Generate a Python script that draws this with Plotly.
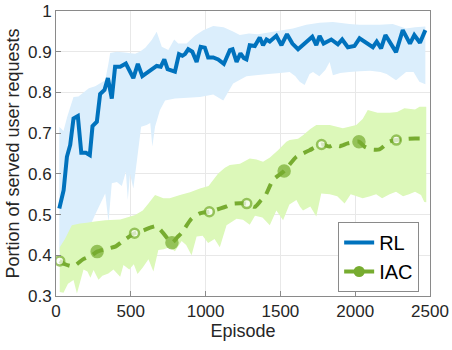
import plotly.graph_objects as go

# RL mean curve
rl_ep = [22, 51, 73, 95, 117, 146, 169, 200, 226, 244, 273, 295, 324, 347, 373, 395, 429, 467,
         517, 547, 577, 629, 673, 700, 724, 746, 795, 822, 845, 862, 884, 911, 940, 967, 995,
         1017, 1051, 1084, 1122, 1162, 1180, 1207, 1233, 1256, 1273, 1295, 1329, 1362, 1384,
         1407, 1429, 1473, 1507, 1544, 1580, 1618, 1667, 1713, 1740, 1762, 1789, 1840, 1884,
         1913, 1951, 1995, 2029, 2073, 2118, 2144, 2173, 2202, 2240, 2273, 2318, 2366, 2395,
         2433, 2469]
rl_val = [0.515, 0.56, 0.642, 0.671, 0.736, 0.742, 0.652, 0.652, 0.646, 0.717, 0.728, 0.796,
          0.806, 0.835, 0.785, 0.863, 0.863, 0.871, 0.835, 0.87, 0.84, 0.853, 0.865, 0.863,
          0.881, 0.857, 0.851, 0.894, 0.89, 0.894, 0.906, 0.9, 0.875, 0.912, 0.91, 0.886,
          0.886, 0.881, 0.87, 0.904, 0.906, 0.875, 0.896, 0.884, 0.881, 0.916, 0.914, 0.935,
          0.916, 0.93, 0.925, 0.939, 0.916, 0.943, 0.92, 0.906, 0.922, 0.937, 0.916, 0.939,
          0.92, 0.93, 0.918, 0.93, 0.911, 0.914, 0.933, 0.922, 0.911, 0.925, 0.908, 0.941,
          0.916, 0.899, 0.953, 0.92, 0.941, 0.922, 0.953]

# RL band
rl_hi_ep = [22, 50, 75, 117, 150, 184, 220, 262, 329, 350, 362, 407, 460, 529, 560, 597, 640,
            673, 707, 751, 790, 817, 873, 930, 984, 1051, 1120, 1180, 1229, 1290, 1351, 1451,
            1584, 1673, 1762, 1851, 1962, 2029, 2162, 2251, 2340, 2400, 2469]
rl_hi = [0.716, 0.705, 0.74, 0.789, 0.79, 0.80, 0.81, 0.815, 0.83, 0.87, 0.897, 0.9, 0.898,
         0.895, 0.9, 0.91, 0.929, 0.949, 0.912, 0.904, 0.93, 0.92, 0.92, 0.94, 0.953, 0.963,
         0.96, 0.95, 0.941, 0.945, 0.943, 0.949, 0.957, 0.966, 0.971, 0.973, 0.968, 0.966,
         0.966, 0.968, 0.957, 0.96, 0.962]
rl_lo_ep = [22, 75, 150, 200, 262, 329, 351, 373, 407, 440, 467, 480, 495, 517, 540, 569, 606,
            630, 644, 662, 695, 729, 795, 880, 962, 1051, 1118, 1184, 1273, 1351, 1420, 1500,
            1562, 1600, 1629, 1662, 1695, 1718, 1760, 1800, 1829, 1851, 1900, 1960, 2030, 2100,
            2169, 2210, 2273, 2340, 2390, 2429, 2469]
rl_lo = [0.41, 0.40, 0.42, 0.45, 0.50, 0.552, 0.482, 0.577, 0.58, 0.57, 0.605, 0.536, 0.60,
         0.564, 0.63, 0.716, 0.72, 0.725, 0.667, 0.716, 0.757, 0.78, 0.785, 0.787, 0.789,
         0.795, 0.78, 0.822, 0.84, 0.843, 0.845, 0.848, 0.85, 0.84, 0.826, 0.818, 0.845,
         0.85, 0.84, 0.855, 0.875, 0.842, 0.848, 0.85, 0.852, 0.853, 0.85, 0.845, 0.83,
         0.85, 0.85, 0.826, 0.82]

# IAC mean curve
iac_ep = [25, 60, 117, 180, 240, 275, 330, 400, 440, 525, 584, 630, 673, 700, 775, 813, 840,
          906, 962, 1025, 1100, 1140, 1184, 1275, 1329, 1370, 1396, 1451, 1525, 1607, 1650,
          1695, 1775, 1829, 1860, 1896, 1950, 2025, 2062, 2107, 2162, 2229, 2275, 2350, 2400,
          2475]
iac_val = [0.386, 0.378, 0.373, 0.39, 0.40, 0.409, 0.415, 0.422, 0.433, 0.454, 0.461, 0.468,
           0.472, 0.462, 0.431, 0.445, 0.455, 0.49, 0.503, 0.507, 0.515, 0.52, 0.527, 0.527,
           0.519, 0.535, 0.544, 0.585, 0.607, 0.642, 0.65, 0.658, 0.672, 0.667, 0.672, 0.668,
           0.675, 0.679, 0.667, 0.66, 0.66, 0.679, 0.683, 0.686, 0.687, 0.687]
iac_mark_ep = [25, 275, 525, 775, 1025, 1275, 1525, 1775, 2025, 2275]
iac_mark_filled = [False, True, False, True, False, False, True, False, True, False]

# IAC band
iac_hi_ep = [25, 60, 106, 160, 206, 260, 329, 430, 529, 580, 618, 662, 718, 760, 829, 896, 962,
             1020, 1084, 1129, 1162, 1230, 1295, 1340, 1384, 1430, 1484, 1540, 1562, 1618,
             1651, 1700, 1740, 1830, 1918, 2007, 2050, 2084, 2150, 2229, 2280, 2329, 2400,
             2430, 2475]
iac_hi = [0.42, 0.44, 0.474, 0.478, 0.48, 0.483, 0.486, 0.488, 0.499, 0.51, 0.527, 0.548,
          0.54, 0.54, 0.548, 0.555, 0.564, 0.57, 0.601, 0.615, 0.622, 0.625, 0.638, 0.635,
          0.63, 0.64, 0.658, 0.679, 0.683, 0.686, 0.695, 0.71, 0.72, 0.72, 0.712, 0.72,
          0.735, 0.757, 0.75, 0.75, 0.752, 0.761, 0.758, 0.765, 0.765]
iac_lo_ep = [25, 50, 80, 117, 140, 184, 210, 230, 251, 284, 310, 350, 384, 429, 451, 490, 520,
             545, 580, 618, 651, 684, 720, 760, 795, 840, 870, 906, 940, 980, 1017, 1060, 1095,
             1140, 1207, 1250, 1295, 1330, 1380, 1429, 1473, 1518, 1560, 1607, 1630, 1651,
             1700, 1740, 1773, 1830, 1880, 1929, 1970, 2010, 2050, 2100, 2140, 2180, 2230,
             2273, 2320, 2360, 2400, 2440, 2462, 2475]
iac_lo = [0.31, 0.308, 0.33, 0.339, 0.306, 0.365, 0.36, 0.345, 0.364, 0.34, 0.35, 0.355,
          0.365, 0.347, 0.376, 0.365, 0.378, 0.354, 0.37, 0.39, 0.36, 0.413, 0.415, 0.42,
          0.41, 0.435, 0.425, 0.40, 0.446, 0.448, 0.43, 0.44, 0.42, 0.474, 0.49, 0.487, 0.475,
          0.497, 0.493, 0.474, 0.51, 0.486, 0.525, 0.536, 0.52, 0.51, 0.52, 0.495, 0.552,
          0.55, 0.545, 0.527, 0.55, 0.545, 0.54, 0.545, 0.55, 0.54, 0.55, 0.556, 0.545, 0.55,
          0.556, 0.548, 0.531, 0.53]

BLUE = '#0072BD'
GREEN = '#77AC30'
BLUE_FILL = '#dbeefc'
GREEN_FILL = '#dcf8b9'
AXIS = '#8a8a8a'
TEXT = '#262626'
FONT = 'Liberation Sans, Arial, sans-serif'

fig = go.Figure()

# shaded bands (green drawn over blue)
fig.add_trace(go.Scatter(x=rl_hi_ep + rl_lo_ep[::-1], y=rl_hi + rl_lo[::-1],
                         fill='toself', fillcolor=BLUE_FILL, mode='none',
                         showlegend=False, hoverinfo='skip'))
fig.add_trace(go.Scatter(x=iac_hi_ep + iac_lo_ep[::-1], y=iac_hi + iac_lo[::-1],
                         fill='toself', fillcolor=GREEN_FILL, mode='none',
                         showlegend=False, hoverinfo='skip'))

fig.add_trace(go.Scatter(x=rl_ep, y=rl_val, mode='lines', name='RL',
                         line=dict(color=BLUE, width=4)))

fig.add_trace(go.Scatter(x=iac_ep, y=iac_val, mode='lines', showlegend=False,
                         line=dict(color=GREEN, width=4, dash='11px,8px', shape='spline',
                                   smoothing=0.6)))

mark_y = [iac_val[iac_ep.index(e)] for e in iac_mark_ep]
fig.add_trace(go.Scatter(x=iac_mark_ep, y=mark_y, mode='markers', showlegend=False,
                         marker=dict(symbol='circle', size=[11 if f else 9 for f in iac_mark_filled],
                                     color=[GREEN if f else 'white' for f in iac_mark_filled],
                                     line=dict(color=GREEN, width=2.5))))

# legend entry for IAC
fig.add_trace(go.Scatter(x=[None], y=[None], mode='lines+markers', name='IAC',
                         line=dict(color=GREEN, width=4),
                         marker=dict(color=GREEN, size=11)))

axis_common = dict(showline=True, linecolor=AXIS, linewidth=1, mirror=True,
                   ticks='inside', ticklen=5, tickcolor=AXIS, automargin=False,
                   showgrid=True, gridcolor='#e8e8e8', gridwidth=1, zeroline=False,
                   tickfont=dict(size=17, color=TEXT, family=FONT))

fig.update_xaxes(range=[0, 2500], dtick=500, tick0=0,
                 title=dict(text='Episode', font=dict(size=18, color=TEXT, family=FONT),
                            standoff=2),
                 **axis_common)
fig.update_yaxes(range=[0.3, 1], dtick=0.1, tick0=0.3,
                 title=dict(text='Portion of served user requests',
                            font=dict(size=18, color=TEXT, family=FONT), standoff=3),
                 **axis_common)

fig.update_layout(
    width=452, height=350,
    margin=dict(l=56, r=22, t=11, b=54),
    plot_bgcolor='white', paper_bgcolor='white',
    font=dict(family=FONT, color=TEXT),
    legend=dict(x=0.971, xanchor='right', y=0.014, yanchor='bottom',
                bgcolor='white', bordercolor=AXIS, borderwidth=1,
                font=dict(size=20, color='black', family=FONT),
                itemwidth=30, tracegroupgap=0),
)

# drop the browser's default page margin so the figure sits at the window corner
fig.write_html("out.html", config={'displayModeBar': False},
               post_script="document.body.style.margin = '0';")
